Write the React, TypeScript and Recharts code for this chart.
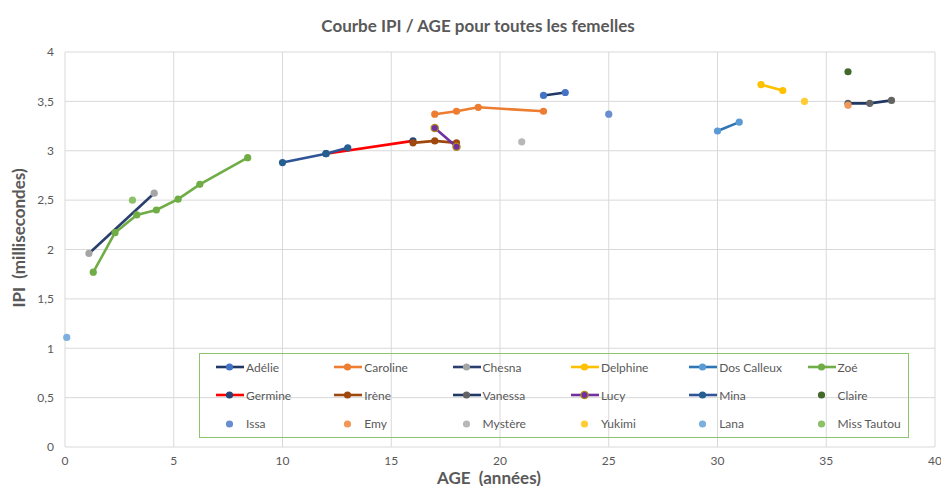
import React from 'react';
import { ScatterChart, Scatter, XAxis, YAxis, CartesianGrid } from 'recharts';

// ---- Axis ticks ----
const xTicks = [0, 5, 10, 15, 20, 25, 30, 35, 40];
const yTicks = [0, 0.5, 1, 1.5, 2, 2.5, 3, 3.5, 4];

// ---- Series data: [AGE (années), IPI (ms)] ----
const adelie = [[22, 3.56], [23, 3.59]];
const caroline = [[17, 3.37], [18, 3.4], [19, 3.44], [22, 3.4]];
const chesna = [[1.1, 1.96], [4.1, 2.57]];
const delphine = [[32, 3.67], [33, 3.61]];
const dosCalleux = [[30, 3.2], [31, 3.29]];
const zoe = [[1.3, 1.77], [2.3, 2.17], [3.3, 2.35], [4.2, 2.4], [5.2, 2.51], [6.2, 2.66], [8.4, 2.93]];
const germine = [[12, 2.97], [16, 3.1]];
const irene = [[16, 3.08], [17, 3.1], [18, 3.08]];
const vanessa = [[36, 3.48], [37, 3.48], [38, 3.51]];
const lucy = [[17, 3.23], [18, 3.04]];
const mina = [[10, 2.88], [12, 2.97], [13, 3.03]];
const claire = [[36, 3.8]];
const issa = [[25, 3.37]];
const emy = [[36, 3.46]];
const mystere = [[21, 3.09]];
const yukimi = [[34, 3.5]];
const lana = [[0.08, 1.11]];
const missTautou = [[3.1, 2.5]];

const seriesNames = [
  'Adélie', 'Caroline', 'Chesna', 'Delphine', 'Dos Calleux', 'Zoé',
  'Germine', 'Irène', 'Vanessa', 'Lucy', 'Mina', 'Claire',
  'Issa', 'Emy', 'Mystère', 'Yukimi', 'Lana', 'Miss Tautou',
];
const seriesData = [
  adelie, caroline, chesna, delphine, dosCalleux, zoe,
  germine, irene, vanessa, lucy, mina, claire,
  issa, emy, mystere, yukimi, lana, missTautou,
];

// styles: line colour (null = markers only), marker fill, marker stroke
const seriesStyles: { line: string | null; fill: string; stroke?: string }[] = [
  { line: '#1F3864', fill: '#4472C4' },
  { line: '#ED7D31', fill: '#ED7D31' },
  { line: '#2B3F6E', fill: '#A5A5A5' },
  { line: '#FFC000', fill: '#FFC000' },
  { line: '#2E75B6', fill: '#5B9BD5' },
  { line: '#70AD47', fill: '#70AD47' },
  { line: '#FF0000', fill: '#264478' },
  { line: '#9E480E', fill: '#9E480E' },
  { line: '#203864', fill: '#636363' },
  { line: '#7030A0', fill: '#7030A0', stroke: '#B08A1A' },
  { line: '#2F5597', fill: '#255E91' },
  { line: null, fill: '#43682B' },
  { line: null, fill: '#698ED0' },
  { line: null, fill: '#F1975A' },
  { line: null, fill: '#B7B7B7' },
  { line: null, fill: '#FFCD33' },
  { line: null, fill: '#7CAFDD' },
  { line: null, fill: '#8CC168' },
];

const FONT = 'Lato, "Open Sans", sans-serif';
const R = 3.6;

const makeDot = (fill: string, stroke?: string) => (props: any) => (
  <circle
    cx={props.cx}
    cy={props.cy}
    r={R}
    fill={fill}
    stroke={stroke || 'none'}
    strokeWidth={stroke ? 1.3 : 0}
  />
);

const fmt = (v: number) => String(v).replace('.', ',');

const LegendItem = ({ idx }: { idx: number }) => {
  const st = seriesStyles[idx];
  const col = idx % 6;
  const row = Math.floor(idx / 6);
  const left = 216 + col * 118.3;
  const cy = [367, 395, 423.7][row];
  return (
    <div style={{ position: 'absolute', left, top: cy - 8, height: 16, display: 'flex', alignItems: 'center' }}>
      <svg width={29} height={16} style={{ display: 'block' }}>
        {st.line && <line x1={0} y1={8} x2={28} y2={8} stroke={st.line} strokeWidth={2.6} />}
        <circle cx={13.5} cy={8} r={R} fill={st.fill} stroke={st.stroke || 'none'} strokeWidth={st.stroke ? 1.3 : 0} />
      </svg>
      <span style={{ fontFamily: FONT, fontSize: 12, color: '#595959', whiteSpace: 'nowrap', marginLeft: 1 }}>
        {seriesNames[idx]}
      </span>
    </div>
  );
};

export default function App() {
  return (
    <div style={{ position: 'absolute', left: 0, top: 0, width: 941, height: 486, background: '#fff', overflow: 'hidden' }}>
      <ScatterChart width={941} height={486} margin={{ top: 52, right: 6, bottom: 14, left: 0 }}>
        <CartesianGrid stroke="#D9D9D9" strokeWidth={1} />
        <XAxis
          type="number"
          dataKey="x"
          domain={[0, 40]}
          ticks={xTicks}
          interval={0}
          axisLine={false}
          tickLine={false}
          tickSize={6}
          tickMargin={3}
          height={25}
          tick={{ fill: '#595959', fontSize: 12, fontFamily: FONT }}
        />
        <YAxis
          type="number"
          dataKey="y"
          domain={[0, 4]}
          ticks={yTicks}
          interval={0}
          axisLine={false}
          tickLine={false}
          tickSize={6}
          tickMargin={5}
          width={65}
          tickFormatter={fmt}
          tick={{ fill: '#595959', fontSize: 12, fontFamily: FONT }}
        />
        {seriesData.map((d, i) => {
          const st = seriesStyles[i];
          const pts = d.map(([x, y]) => ({ x, y }));
          return (
            <Scatter
              key={seriesNames[i]}
              name={seriesNames[i]}
              data={pts}
              fill={st.fill}
              isAnimationActive={false}
              line={st.line ? { stroke: st.line, strokeWidth: 2.6 } : false}
              lineType="joint"
              shape={makeDot(st.fill, st.stroke)}
            />
          );
        })}
      </ScatterChart>

      {/* Title */}
      <div style={{ position: 'absolute', left: 478, top: 25, transform: 'translate(-50%, -50%)', fontFamily: FONT, fontWeight: 700, fontSize: 17, color: '#595959', whiteSpace: 'nowrap' }}>
        Courbe IPI / AGE pour toutes les femelles
      </div>
      {/* Y axis title */}
      <div style={{ position: 'absolute', left: 18, top: 238, transform: 'translate(-50%, -50%) rotate(-90deg)', fontFamily: FONT, fontWeight: 700, fontSize: 17, color: '#595959', whiteSpace: 'pre' }}>
        {'IPI  (millisecondes)'}
      </div>
      {/* X axis title */}
      <div style={{ position: 'absolute', left: 489, top: 477, transform: 'translate(-50%, -50%)', fontFamily: FONT, fontWeight: 700, fontSize: 17, color: '#595959', whiteSpace: 'pre' }}>
        {'AGE  (années)'}
      </div>

      {/* Legend */}
      <div style={{ position: 'absolute', left: 199, top: 353, width: 710, height: 85, border: '1.5px solid #8FC46E', boxSizing: 'border-box' }} />
      {seriesNames.map((_, i) => (
        <LegendItem key={i} idx={i} />
      ))}
    </div>
  );
}
